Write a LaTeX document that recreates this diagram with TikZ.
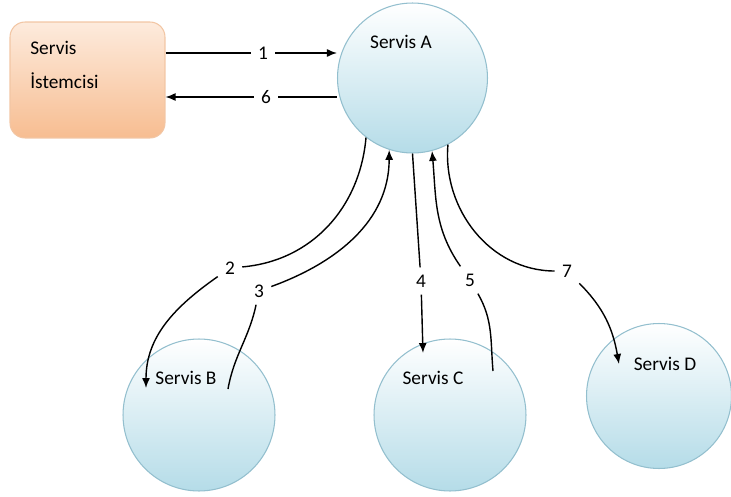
\documentclass[tikz,border=0pt]{standalone}
\usepackage{fontspec}
\setmainfont{Carlito}
\usetikzlibrary{arrows.meta}
\definecolor{clienttop}{HTML}{FDEBDD}
\definecolor{clientbot}{HTML}{F7BD91}
\definecolor{clientline}{HTML}{F2C6A4}
\definecolor{svcmid}{HTML}{E2F2F7}
\definecolor{svcbot}{HTML}{B5DCE8}
\definecolor{svcline}{HTML}{93BFCE}
\begin{document}
\begin{tikzpicture}[x=0.02cm,y=-0.02cm,font=\fontsize{11}{13}\selectfont,
    svc/.style={circle,draw=svcline,line width=0.6pt,top color=white,middle color=svcmid,bottom color=svcbot,minimum size=3cm,inner sep=0pt},
    client/.style={rectangle,rounded corners=0.3cm,draw=clientline,line width=0.6pt,top color=clienttop,bottom color=clientbot,minimum width=3.1cm,minimum height=2.32cm},
    num/.style={inner sep=4pt},
    arr/.style={line width=0.8pt,-{Latex[length=2mm,width=1.6mm]}}]
        \useasboundingbox (0,0) rectangle (731,497);
        % istemci ve servisler
        \node[client] (cl) at (87.5,80) {};
        \node[anchor=north west,inner sep=0pt,align=left,font=\fontsize{11}{19.5}\selectfont] (clt) at (30,41) {Servis\\İstemcisi};
        \node[svc] (sa) at (412.5,78) {};
        \node[svc,minimum size=3.04cm] (sb) at (199,415) {};
        \node[svc,minimum size=3.04cm] (sc) at (450,415) {};
        \node[svc,minimum size=2.9cm] (sd) at (659,396) {};
        \node (ta) at (401,42) {Servis A};
        \node (tb) at (186,378) {Servis B};
        \node (tc) at (433,378) {Servis C};
        \node (td) at (665,364) {Servis D};
        % ok uclari
        \coordinate (b2) at (146,388);
        \coordinate (b3) at (228,389);
        \coordinate (c4) at (423,353);
        \coordinate (c5) at (493,371);
        \coordinate (d7) at (619,364);
        % numaralar
        \node[num] (n1) at (263,53) {1};
        \node[num] (n6) at (266,97) {6};
        \node[num] (n2) at (230,268) {2};
        \node[num] (n3) at (259,291) {3};
        \node[num] (n4) at (421,281) {4};
        \node[num] (n5) at (470,280) {5};
        \node[num] (n7) at (567,271) {7};
        % oklar
        \draw[arr] (cl.east |- n1) -- (n1) -- (n1 -| sa.west);
        \draw[arr] (n6 -| sa.west) -- (n6) -- (cl.east |- n6);
        \draw[arr] (sa.232) to[out=-95,in=5] (n2) to[out=215,in=90] (b2);
        \draw[arr] (b3) to[out=80,in=258] (n3) to[out=20,in=-90] (sa.252);
        \draw[arr] (sa.270) -- (n4) -- (c4);
        \draw[arr] (c5) to[out=95,in=-60] (n5) to[out=125,in=-85] (sa.285);
        \draw[arr] (sa.298) to[out=-95,in=180] (n7) to[out=-45,in=100] (d7);
\end{tikzpicture}
\end{document}
